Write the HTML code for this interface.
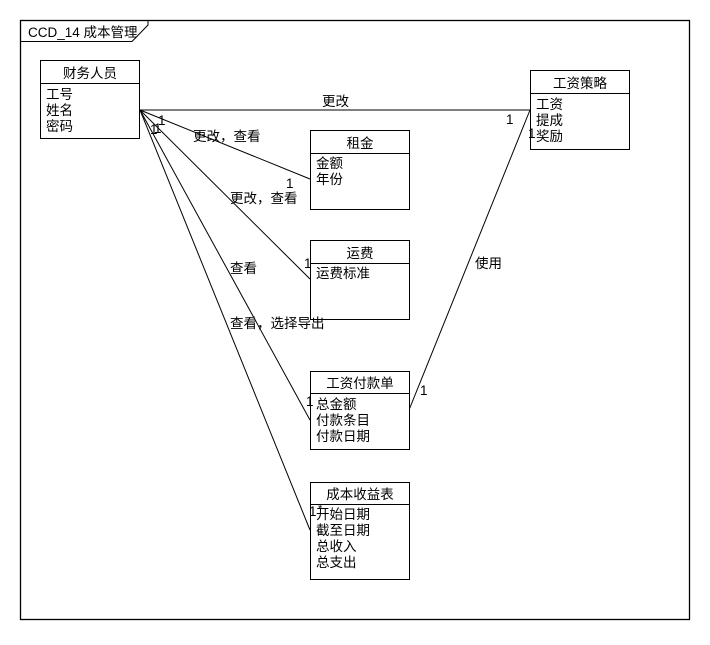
<!DOCTYPE html>
<html><head><meta charset="utf-8"><style>
body{margin:0;background:#fff;}
svg text{font-family:"Liberation Sans","Noto Sans CJK SC",sans-serif;font-size:13.5px;fill:#000;}
</style></head><body>
<svg width="710" height="640" xmlns="http://www.w3.org/2000/svg">
<rect x="0" y="0" width="710" height="640" fill="#fff"/>
<rect x="20.5" y="20.5" width="669" height="599" fill="none" stroke="#000" stroke-width="1.3"/>
<polyline points="20.5,41.5 132,41.5 148,25 148,20.5" fill="none" stroke="#000"/>
<text x="28" y="37">CCD_14 成本管理</text>

<g fill="none" stroke="#000">
<line x1="140" y1="110" x2="530" y2="110"/>
<line x1="140" y1="110" x2="310" y2="179"/>
<line x1="140" y1="110" x2="310" y2="279"/>
<line x1="140" y1="110" x2="310" y2="420"/>
<line x1="140" y1="110" x2="310" y2="530"/>
<line x1="530" y1="110" x2="409" y2="410"/>
</g>

<g fill="#fff" stroke="#000">
<rect x="40.5" y="60.5" width="99" height="78"/>
<rect x="530.5" y="70.5" width="99" height="79"/>
<rect x="310.5" y="130.5" width="99" height="79"/>
<rect x="310.5" y="240.5" width="99" height="79"/>
<rect x="310.5" y="371.5" width="99" height="78"/>
<rect x="310.5" y="482.5" width="99" height="97"/>
</g>
<g stroke="#000">
<line x1="40" y1="83.5" x2="140" y2="83.5"/>
<line x1="530" y1="93.5" x2="630" y2="93.5"/>
<line x1="310" y1="153.5" x2="410" y2="153.5"/>
<line x1="310" y1="263.5" x2="410" y2="263.5"/>
<line x1="310" y1="393.5" x2="410" y2="393.5"/>
<line x1="310" y1="504.5" x2="410" y2="504.5"/>
</g>

<text x="90" y="78" text-anchor="middle">财务人员</text>
<text x="46" y="99">工号</text><text x="46" y="115">姓名</text><text x="46" y="131">密码</text>

<text x="580" y="88" text-anchor="middle">工资策略</text>
<text x="536" y="109">工资</text><text x="536" y="125">提成</text><text x="536" y="141">奖励</text>

<text x="360" y="148" text-anchor="middle">租金</text>
<text x="316" y="168">金额</text><text x="316" y="184">年份</text>

<text x="360" y="258" text-anchor="middle">运费</text>
<text x="316" y="278">运费标准</text>

<text x="360" y="388" text-anchor="middle">工资付款单</text>
<text x="316" y="409">总金额</text><text x="316" y="425">付款条目</text><text x="316" y="441">付款日期</text>

<text x="360" y="499" text-anchor="middle">成本收益表</text>
<text x="316" y="519">开始日期</text><text x="316" y="535">截至日期</text><text x="316" y="551">总收入</text><text x="316" y="567">总支出</text>

<text x="322" y="106">更改</text>
<text x="193" y="141">更改，查看</text>
<text x="230" y="203">更改，查看</text>
<text x="230" y="273">查看</text>
<text x="230" y="328">查看，选择导出</text>
<text x="475" y="268">使用</text>

<text x="506" y="124">1</text>
<text x="528" y="138">1</text>
<text x="158" y="125">1</text>
<text x="154" y="133">1</text>
<text x="150" y="134">1</text>
<text x="286" y="188">1</text>
<text x="304" y="268">1</text>
<text x="306" y="406">1</text>
<text x="420" y="395">1</text>
<text x="309" y="516">1</text>
<text x="318" y="512" style="font-size:11px">*</text>
</svg>
</body></html>
